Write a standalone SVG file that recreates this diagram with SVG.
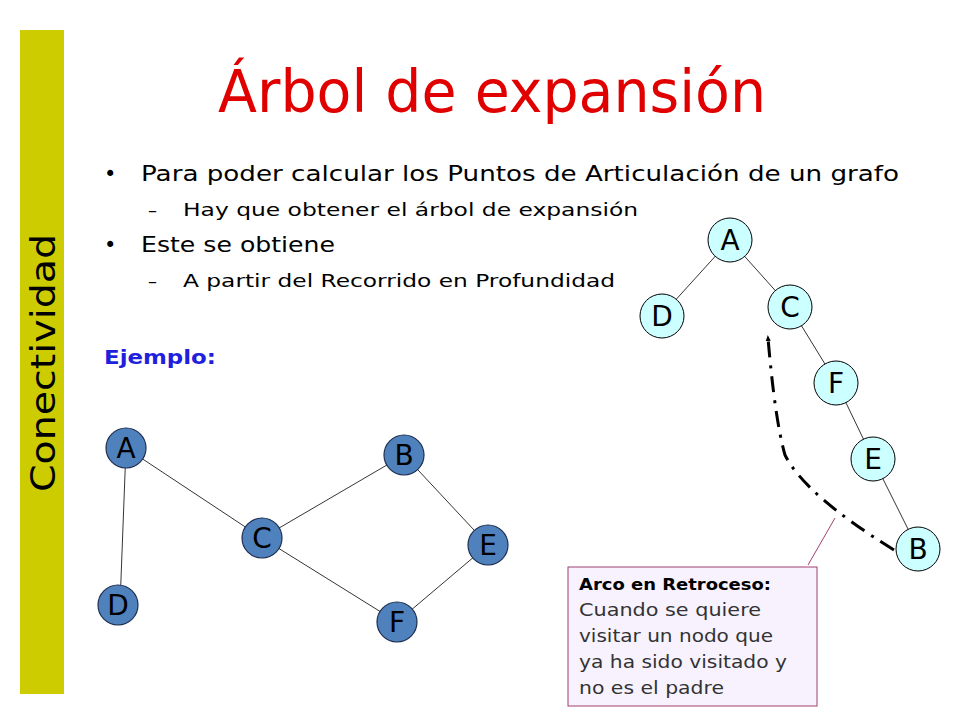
<svg xmlns="http://www.w3.org/2000/svg" width="960" height="720" viewBox="0 0 960 720">
<style>
text{font-family:"DejaVu Sans","Liberation Sans",sans-serif}
.g circle{fill:#4f81bd;stroke:#1f2f4f;stroke-width:1.2}
.t circle{fill:#ccffff;stroke:#000;stroke-width:1}
.lbl{font-size:28px;fill:#000;text-anchor:middle}
.e{stroke:#000;stroke-width:0.8;fill:none}
.b1{font-size:21px;fill:#000}
.b2{font-size:18px;fill:#000}
</style>
<defs><marker id="ah" markerWidth="6" markerHeight="6" refX="3" refY="3" orient="auto" markerUnits="userSpaceOnUse"><path d="M0,0.5 L6,3 L0,5.5 z" fill="#000"/></marker></defs>
<rect width="960" height="720" fill="#fff"/>
<rect x="20" y="30" width="44" height="664" fill="#cccc00"/>
<text transform="translate(55,363) rotate(-90)" font-size="34" text-anchor="middle" fill="#000" textLength="258" lengthAdjust="spacingAndGlyphs">Conectividad</text>
<text x="492" y="112" font-size="58" fill="#e00000" text-anchor="middle" textLength="548" lengthAdjust="spacingAndGlyphs">Árbol de expansión</text>
<text x="104" y="181" class="b1">•</text>
<text x="141" y="181" class="b1" textLength="758" lengthAdjust="spacingAndGlyphs">Para poder calcular los Puntos de Articulación de un grafo</text>
<text x="148" y="216" class="b2">–</text>
<text x="183" y="216" class="b2" textLength="455" lengthAdjust="spacingAndGlyphs">Hay que obtener el árbol de expansión</text>
<text x="104" y="252" class="b1">•</text>
<text x="141" y="252" class="b1" textLength="194" lengthAdjust="spacingAndGlyphs">Este se obtiene</text>
<text x="148" y="287" class="b2">–</text>
<text x="183" y="287" class="b2" textLength="432" lengthAdjust="spacingAndGlyphs">A partir del Recorrido en Profundidad</text>
<text x="104" y="364" font-size="19" font-weight="bold" fill="#1f1fdd" textLength="112" lengthAdjust="spacingAndGlyphs">Ejemplo:</text>
<g id="connectors">
<line class="e" x1="126" y1="448" x2="120" y2="605" stroke-width="1.4"/>
<line class="e" x1="126" y1="448" x2="262" y2="538"/>
<line class="e" x1="262" y1="538" x2="404" y2="455"/>
<line class="e" x1="262" y1="538" x2="397" y2="622"/>
<line class="e" x1="404" y1="455" x2="488" y2="545"/>
<line class="e" x1="488" y1="545" x2="397" y2="622"/>
<line class="e" x1="730" y1="240" x2="662" y2="315"/>
<line class="e" x1="730" y1="240" x2="790" y2="307"/>
<line class="e" x1="790" y1="307" x2="836" y2="382"/>
<line class="e" x1="836" y1="382" x2="873" y2="459"/>
<line class="e" x1="873" y1="459" x2="918" y2="549"/>
<path d="M894,550 Q805,495 785,455 Q775,420 768,338" fill="none" stroke="#000" stroke-width="3" stroke-dasharray="16,8,3,8" marker-end="url(#ah)"/>
<line x1="808" y1="565" x2="835" y2="518" stroke="#a04070" stroke-width="1"/>
</g>
<g id="gA" class="g"><circle cx="126" cy="448" r="20"/><text class="lbl" x="126" y="458">A</text></g>
<g id="gB" class="g"><circle cx="404" cy="455" r="20"/><text class="lbl" x="404" y="465">B</text></g>
<g id="gC" class="g"><circle cx="262" cy="538" r="20"/><text class="lbl" x="262" y="548">C</text></g>
<g id="gD" class="g"><circle cx="118" cy="605" r="20"/><text class="lbl" x="118" y="615">D</text></g>
<g id="gE" class="g"><circle cx="488" cy="545" r="20"/><text class="lbl" x="488" y="555">E</text></g>
<g id="gF" class="g"><circle cx="397" cy="622" r="20"/><text class="lbl" x="397" y="632">F</text></g>
<g id="tA" class="t"><circle cx="730" cy="240" r="22"/><text class="lbl" x="730" y="250">A</text></g>
<g id="tD" class="t"><circle cx="662" cy="316" r="22"/><text class="lbl" x="662" y="326">D</text></g>
<g id="tC" class="t"><circle cx="790" cy="307" r="22"/><text class="lbl" x="790" y="317">C</text></g>
<g id="tF" class="t"><circle cx="836" cy="383" r="22"/><text class="lbl" x="836" y="393">F</text></g>
<g id="tE" class="t"><circle cx="873" cy="459" r="22"/><text class="lbl" x="873" y="469">E</text></g>
<g id="tB" class="t"><circle cx="918" cy="549" r="22"/><text class="lbl" x="918" y="559">B</text></g>
<g id="callout">
<rect x="568" y="567" width="249" height="139" fill="#f7f2fd" stroke="#a04070" stroke-width="1"/>
<text x="579" y="590" font-size="15" font-weight="bold" fill="#000" textLength="192" lengthAdjust="spacingAndGlyphs">Arco en Retroceso:</text>
<text x="579" y="616" font-size="18" fill="#333" textLength="182" lengthAdjust="spacingAndGlyphs">Cuando se quiere</text>
<text x="579" y="642" font-size="18" fill="#333" textLength="194" lengthAdjust="spacingAndGlyphs">visitar un nodo que</text>
<text x="579" y="668" font-size="18" fill="#333" textLength="208" lengthAdjust="spacingAndGlyphs">ya ha sido visitado y</text>
<text x="579" y="694" font-size="18" fill="#333" textLength="145" lengthAdjust="spacingAndGlyphs">no es el padre</text>
</g>
</svg>
